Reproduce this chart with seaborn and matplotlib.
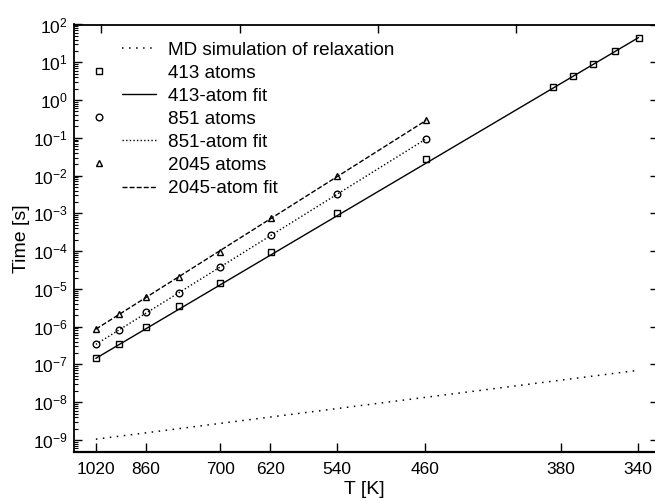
import numpy as np
import pandas as pd
import matplotlib
matplotlib.use("Agg")
import matplotlib.pyplot as plt
import seaborn as sns
from matplotlib.lines import Line2D
from matplotlib.legend_handler import HandlerBase
from matplotlib.ticker import (FixedLocator, FixedFormatter, LogLocator,
                               NullLocator, NullFormatter)

# ---------------- data ----------------
T_413 = [1020, 940, 860, 780, 700, 620, 540, 460, 380, 370, 360, 350, 340]
time_413 = [1.5e-7, 3.5e-7, 1.0e-6, 3.5e-6, 1.4e-5, 9.5e-5, 1.0e-3, 2.8e-2,
            2.2, 4.4, 8.8, 19.5, 45.0]
T_851 = [1020, 940, 860, 780, 700, 620, 540, 460]
time_851 = [3.4e-7, 8.2e-7, 2.5e-6, 7.8e-6, 3.9e-5, 2.6e-4, 3.2e-3, 9.4e-2]
T_2045 = [1020, 940, 860, 780, 700, 620, 540, 460]
time_2045 = [8.6e-7, 2.2e-6, 6.0e-6, 2.1e-5, 9.5e-5, 7.4e-4, 9.5e-3, 0.29]

fit_T_413 = [1020, 340]
fit_time_413 = [1.45e-7, 45.0]
fit_T_851 = [1020, 460]
fit_time_851 = [3.4e-7, 9.4e-2]
fit_T_2045 = [1020, 460]
fit_time_2045 = [8.6e-7, 0.29]
md_T = [1020, 340]
md_time = [1.05e-9, 7.0e-8]

# bottom ticks sit at these 1000/T values, labelled with rounded T
tick_invT = [0.98, 1.16, 1.43, 1.61, 1.85, 2.17, 2.66, 2.94]
tick_labels = ["1020", "860", "700", "620", "540", "460", "380", "340"]
top_ticks = [1.0, 1.5, 2.0, 2.5]
decades = [10.0 ** k for k in range(-9, 3)]

labels = ["MD simulation of relaxation", "413 atoms", "413-atom fit",
          "851 atoms", "851-atom fit", "2045 atoms", "2045-atom fit"]

# ---------------- style ----------------
sns.set_theme(style="ticks")
plt.rcParams['font.family'] = ['Liberation Sans', 'DejaVu Sans']
plt.rcParams['mathtext.fontset'] = 'custom'
plt.rcParams['mathtext.rm'] = 'Liberation Sans'
plt.rcParams['mathtext.it'] = 'Liberation Sans:italic'
plt.rcParams['mathtext.bf'] = 'Liberation Sans:bold'
plt.rcParams['axes.edgecolor'] = 'black'
plt.rcParams['xtick.color'] = 'black'
plt.rcParams['ytick.color'] = 'black'
plt.rcParams['text.color'] = 'black'
plt.rcParams['axes.labelcolor'] = 'black'

W, H = 655, 501
fig = plt.figure(figsize=(W / 100, H / 100), dpi=100)
left, right, top, bottom = 73.6, 654.8, 24.5, 452.3
ax = fig.add_axes([left / W, 1 - bottom / H, (right - left) / W, (bottom - top) / H])


def frame(T, t):
    return pd.DataFrame({"invT": 1000.0 / np.asarray(T, float), "time": t})


line_kw = dict(ax=ax, x="invT", y="time", estimator=None, sort=False,
               legend=False, color="black")
mk_kw = dict(linestyle="none", markerfacecolor="none", markeredgecolor="black",
             markeredgewidth=1.0)

sns.lineplot(data=frame(md_T, md_time), linewidth=1.1,
             linestyle=(0, (1, 3.6)), label=labels[0], **line_kw)
sns.lineplot(data=frame(fit_T_413, fit_time_413), linewidth=1.0,
             linestyle="-", label=labels[2], **line_kw)
sns.lineplot(data=frame(fit_T_851, fit_time_851), linewidth=1.0,
             linestyle=(0, (1, 1.6)), label=labels[4], **line_kw)
sns.lineplot(data=frame(fit_T_2045, fit_time_2045), linewidth=1.0,
             linestyle=(0, (3.6, 1.5)), label=labels[6], **line_kw)
sns.lineplot(data=frame(T_413, time_413), marker="s", markersize=4.8,
             label=labels[1], **mk_kw, **line_kw)
sns.lineplot(data=frame(T_851, time_851), marker="o", markersize=4.8,
             label=labels[3], **mk_kw, **line_kw)
sns.lineplot(data=frame(T_2045, time_2045), marker="^", markersize=4.6,
             label=labels[5], **mk_kw, **line_kw)

# ---------------- axes ----------------
ax.set_yscale("log")
ax.set_xlim(0.9, 3.0)
ax.set_ylim(10 ** -9.326, 1e2)

ax.xaxis.set_major_locator(FixedLocator(tick_invT))
ax.xaxis.set_major_formatter(FixedFormatter(tick_labels))
ax.xaxis.set_minor_locator(NullLocator())
ax.yaxis.set_major_locator(LogLocator(base=10, numticks=30))
ax.yaxis.set_minor_locator(LogLocator(base=10, subs=np.arange(2, 10), numticks=30))
ax.yaxis.set_minor_formatter(NullFormatter())

ax.tick_params(axis="x", which="major", direction="in", length=6.5, width=1.0,
               labelsize=12.5, pad=7, top=False)
ax.tick_params(axis="y", which="major", direction="in", length=5.5, width=1.0,
               labelsize=12.5, pad=4, right=False)
ax.tick_params(axis="y", which="minor", direction="in", length=3.0, width=0.8,
               right=False)

for s in ["left", "bottom", "top"]:
    ax.spines[s].set_linewidth(1.3)
ax.spines["bottom"].set_linewidth(1.6)
ax.spines["right"].set_visible(False)

# top ticks (evenly spaced in 1000/T, unlabelled)
secx = ax.secondary_xaxis("top")
secx.xaxis.set_major_locator(FixedLocator(top_ticks))
secx.xaxis.set_minor_locator(NullLocator())
secx.tick_params(axis="x", which="major", direction="in", length=6.5, width=1.0,
                 labeltop=False)
secx.spines["top"].set_visible(False)

# right ticks at the decades, unlabelled
secy = ax.twinx()
secy.set_yscale("log")
secy.set_ylim(ax.get_ylim())
secy.yaxis.set_major_locator(FixedLocator(decades))
secy.yaxis.set_minor_locator(NullLocator())
secy.yaxis.set_major_formatter(NullFormatter())
secy.tick_params(axis="y", which="major", direction="in", length=3.6, width=1.0,
                 labelright=False, left=False, right=True)
for s in secy.spines.values():
    s.set_visible(False)

ax.set_xlabel("T [K]", fontsize=14, labelpad=3)
ax.set_ylabel("Time [s]", fontsize=14, labelpad=2)


# ---------------- legend ----------------
class LeftMarkerHandler(HandlerBase):
    """Marker drawn to the left of the (empty) handle box."""

    def __init__(self, shift=16.6, **kw):
        super().__init__(**kw)
        self.shift = shift

    def create_artists(self, legend, orig_handle, xdescent, ydescent,
                       width, height, fontsize, trans):
        y = (height - ydescent) / 2
        m = Line2D([-xdescent - self.shift], [y])
        self.update_prop(m, orig_handle, legend)
        m.set_linestyle("none")
        m.set_transform(trans)
        return [m]


line_by_label = {ln.get_label(): ln for ln in ax.lines}
handles = [line_by_label[l] for l in labels]
hmap = {line_by_label[l]: LeftMarkerHandler() for l in (labels[1], labels[3], labels[5])}
ax.legend(handles, labels, handler_map=hmap, loc="upper left",
          bbox_to_anchor=((122 - left) / (right - left), 1 - (41.5 - top) / (bottom - top)),
          frameon=False, fontsize=13.6, handlelength=1.8, handletextpad=0.62,
          labelspacing=0.31, borderpad=0, borderaxespad=0)

fig.savefig("out.png", dpi=100)
